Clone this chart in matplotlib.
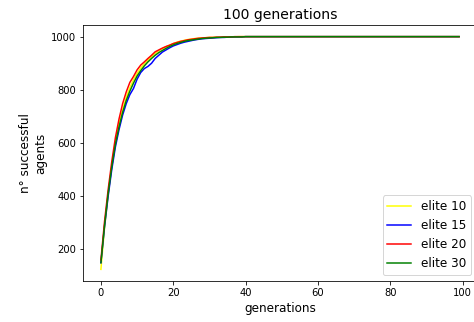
from matplotlib import pyplot as plt

generations = list(range(100))

elite10 = [125, 280, 405, 515, 605, 672, 725, 772, 808, 838,
           862, 882, 898, 912, 925, 937, 947, 955, 962, 968,
           974, 979, 983, 986, 989, 991, 993, 994, 995, 996,
           997, 997, 998, 998, 999, 999, 999, 999, 1000, 1000,
           1000, 1000, 1000, 1000, 1000, 1000, 1000, 1000, 1000, 1000,
           1000, 1000, 1000, 1000, 1000, 1000, 1000, 1000, 1000, 1000,
           1000, 1000, 1000, 1000, 1000, 1000, 1000, 1000, 1000, 1000,
           1000, 1000, 1000, 1000, 1000, 1000, 1000, 1000, 1000, 1000,
           1000, 1000, 1000, 1000, 1000, 1000, 1000, 1000, 1000, 1000,
           1000, 1000, 1000, 1000, 1000, 1000, 1000, 1000, 1000, 1000]

elite15 = [150, 285, 400, 500, 585, 650, 705, 748, 782, 805,
           840, 865, 880, 888, 900, 918, 930, 942, 950, 958,
           965, 970, 975, 979, 982, 985, 988, 990, 992, 993,
           994, 995, 996, 997, 997, 998, 998, 999, 999, 999,
           1000, 1000, 1000, 1000, 1000, 1000, 1000, 1000, 1000, 1000,
           1000, 1000, 1000, 1000, 1000, 1000, 1000, 1000, 1000, 1000,
           1000, 1000, 1000, 1000, 1000, 1000, 1000, 1000, 1000, 1000,
           1000, 1000, 1000, 1000, 1000, 1000, 1000, 1000, 1000, 1000,
           1000, 1000, 1000, 1000, 1000, 1000, 1000, 1000, 1000, 1000,
           1000, 1000, 1000, 1000, 1000, 1000, 1000, 1000, 1000, 1000]

elite20 = [160, 305, 425, 530, 620, 690, 748, 792, 828, 850,
           875, 893, 905, 918, 930, 943, 950, 957, 963, 968,
           974, 978, 982, 985, 988, 990, 992, 994, 995, 996,
           997, 997, 998, 998, 999, 999, 999, 1000, 1000, 1000,
           1000, 1000, 1000, 1000, 1000, 1000, 1000, 1000, 1000, 1000,
           1000, 1000, 1000, 1000, 1000, 1000, 1000, 1000, 1000, 1000,
           1000, 1000, 1000, 1000, 1000, 1000, 1000, 1000, 1000, 1000,
           1000, 1000, 1000, 1000, 1000, 1000, 1000, 1000, 1000, 1000,
           1000, 1000, 1000, 1000, 1000, 1000, 1000, 1000, 1000, 1000,
           1000, 1000, 1000, 1000, 1000, 1000, 1000, 1000, 1000, 1000]

elite30 = [150, 290, 410, 510, 595, 660, 715, 760, 795, 825,
           852, 872, 890, 905, 918, 930, 940, 948, 956, 963,
           969, 974, 978, 982, 985, 987, 989, 991, 993, 994,
           995, 996, 997, 997, 998, 998, 999, 999, 999, 999,
           1000, 1000, 1000, 1000, 1000, 1000, 1000, 1000, 1000, 1000,
           1000, 1000, 1000, 1000, 1000, 1000, 1000, 1000, 1000, 1000,
           1000, 1000, 1000, 1000, 1000, 1000, 1000, 1000, 1000, 1000,
           1000, 1000, 1000, 1000, 1000, 1000, 1000, 1000, 1000, 1000,
           1000, 1000, 1000, 1000, 1000, 1000, 1000, 1000, 1000, 1000,
           1000, 1000, 1000, 1000, 1000, 1000, 1000, 1000, 1000, 1000]

fig = plt.figure(figsize=(474 / 72, 322 / 72), dpi=72)
ax = fig.add_axes([83 / 474, 41 / 322, 394 / 474, 256 / 322])
ax.plot(generations, elite10, color="yellow", label="elite 10")
ax.plot(generations, elite15, color="blue", label="elite 15")
ax.plot(generations, elite20, color="red", label="elite 20")
ax.plot(generations, elite30, color="green", label="elite 30")
ax.legend(loc="lower right", fontsize=12)
ax.set_title("100 generations", fontsize=14)
ax.set_xlabel("generations", fontsize=12)
ax.set_ylabel("n° successful\nagents", fontsize=12)
fig.savefig("out.png", dpi=72)
